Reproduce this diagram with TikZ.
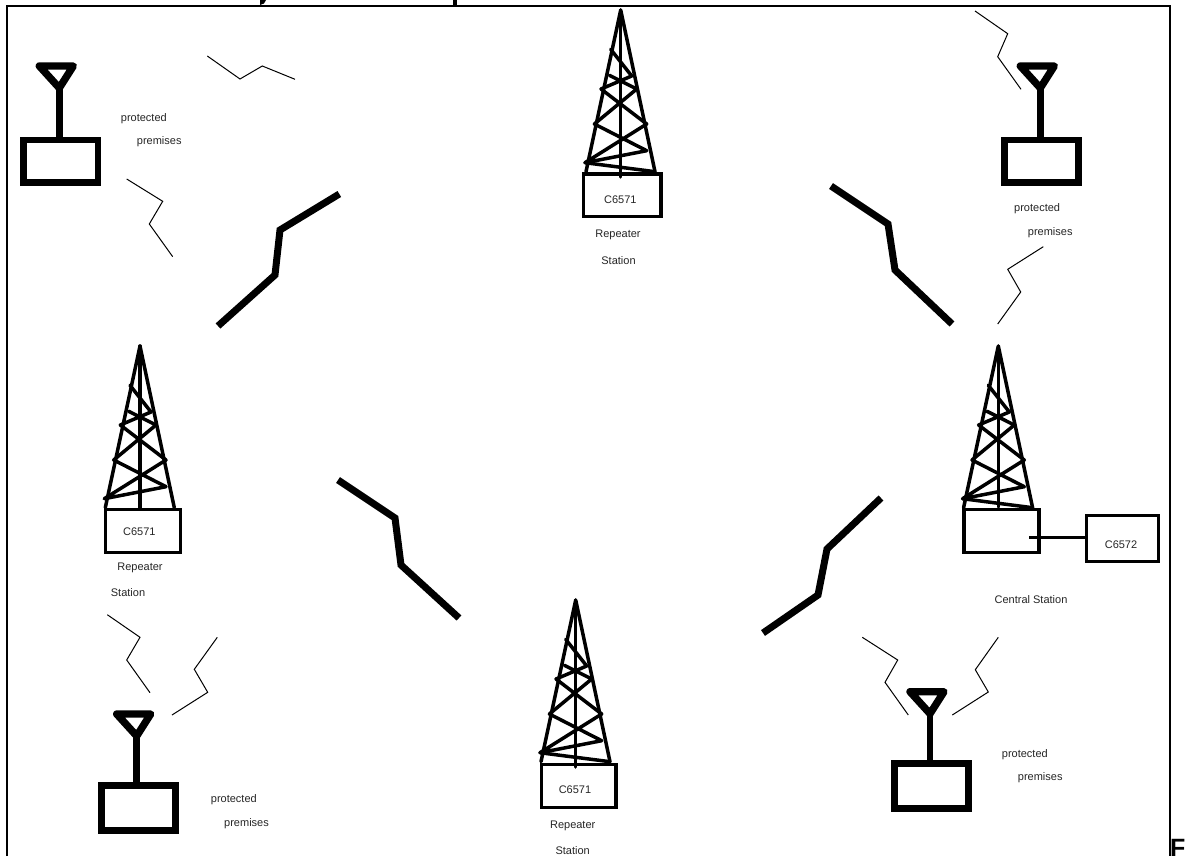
\documentclass[tikz,border=0pt]{standalone}
\usepackage{fontspec}
\setmainfont{Liberation Sans}
\newcommand{\towerbody}[5]{%
  % #1 name, #2 apex x, #3 apex y, #4 foot of the mast, #5 extra bar (1 = yes)
  \begin{scope}[shift={(#2,#3)}]
    \coordinate (#1apex) at (0,0);
    \coordinate (#1foot) at (0,#4);
    \draw[towerline] (-34.7,161.7) -- (#1apex) -- (34.3,161.7);
    \draw[towerline] (#1apex) -- (#1foot);
    \draw[towerline] (-10,39.3) -- (11,66) -- (-19.7,79) -- (26,114) -- (-35.7,152.7) -- (26,140.7) -- (-26.3,114) -- (16,79) -- (-11.3,65.3);
    \ifnum#5=1 \draw[towerline] (-35.7,152.7) -- (34.3,161.7);\fi
  \end{scope}}
\newcommand{\antennaunit}[7]{%
  % #1 name, #2 stem x, #3 tri top y, #4 box left, #5 box top, #6 box right, #7 box bottom
  \draw[antline] (#4,#5) rectangle (#6,#7);
  \coordinate (#1stemtop) at (#2,#3+22);
  \coordinate (#1stembot) at (#2,#5);
  \draw[antline] (#1stembot) -- (#1stemtop);
  \draw[triline] (#2-20,#3) -- (#2+14,#3) -- (#1stemtop) -- cycle;}
\tikzset{
  towerline/.style={line width=3.5pt,line join=round,line cap=round,black},
  stationbox/.style={draw=black,line width=3.2pt,fill=none,inner sep=0pt,anchor=north west},
  antline/.style={line width=6.6pt,black},
  triline/.style={line width=7.4pt,line join=round,line cap=round,black},
  thinbolt/.style={line width=1pt,black},
  thickbolt/.style={line width=7pt,black},
  lbl/.style={font=\fontsize{11}{13}\selectfont,text=black!85,inner sep=0pt},
  lblw/.style={lbl,anchor=west},
  framed/.style={line width=2.2pt,black},
}
\begin{document}
\begin{tikzpicture}[x=1pt,y=-1pt]
\useasboundingbox (0,0) rectangle (1185,856);
\fill[white] (0,0) rectangle (1185,856);
% clipped remains of the page text
\fill[black] (260,0) -- (266,0) -- (264,3.5) -- (260,5) -- cycle;
\fill[black] (453,0) rectangle (457,5);
\node[font=\bfseries\fontsize{25}{25}\selectfont,anchor=base west,inner sep=0pt] (fig) at (1170,856.5) {F};
% frame
\draw[framed] (7,856) -- (7,6) -- (1170,6) -- (1170,856);
% towers
\towerbody{t}{620.7}{10}{167}{1}
\towerbody{l}{140}{346}{162}{0}
\towerbody{r}{998.3}{346}{161}{1}
\towerbody{b}{575.7}{600}{167}{1}
% station boxes
\node[stationbox,minimum width=77.6pt,minimum height=42.7pt] (tbox) at (581.7,172.3) {};
\node[stationbox,minimum width=75pt,minimum height=42.7pt] (lbox) at (104,508) {};
\node[stationbox,minimum width=75pt,minimum height=43pt] (rbox) at (962.3,507.7) {};
\node[stationbox,minimum width=74.3pt,minimum height=43pt] (bbox) at (540,762.7) {};
\node[stationbox,minimum width=71.7pt,minimum height=46pt] (cbox) at (1085,514) {};
\coordinate (rtap) at (1029.3,537.7);
\draw[line width=3.2pt,black] (rtap) -- (rtap -| cbox.west);
% antennas
\antennaunit{a}{59.3}{66}{23.7}{140}{98}{182.7}
\antennaunit{c}{1040.3}{66}{1004.7}{140}{1078.7}{182.7}
\antennaunit{d}{136.7}{714}{101.3}{785.7}{175.3}{830.3}
\antennaunit{e}{930}{691.7}{894.7}{763.7}{968.7}{808.7}
% thick bolts
\draw[thickbolt] (339.3,194) -- (280,230) -- (275,275) -- (218,326);
\draw[thickbolt] (831,186) -- (888,224) -- (895,270) -- (952,324);
\draw[thickbolt] (338,480) -- (395,518) -- (401,565) -- (459,618);
\draw[thickbolt] (881,498) -- (827,549) -- (818,595) -- (763,633);
% thin bolts
\draw[thinbolt] (207.3,56) -- (240,79) -- (262.3,66) -- (295,79.3);
\draw[thinbolt] (126.7,179) -- (162.7,201.3) -- (149.3,224) -- (172.7,256.7);
\draw[thinbolt] (975,11) -- (1007.7,33.7) -- (997.7,56.7) -- (1021,89.3);
\draw[thinbolt] (1043.3,246.7) -- (1007.7,269.3) -- (1020.7,292) -- (997.7,324);
\draw[thinbolt] (107.3,614.7) -- (140,637.3) -- (126.7,660) -- (150,692.7);
\draw[thinbolt] (217.3,637.3) -- (194.3,669.3) -- (207.7,692.3) -- (172,715);
\draw[thinbolt] (862.3,637.3) -- (897.7,660) -- (885,682.3) -- (908.3,715);
\draw[thinbolt] (998.3,637.3) -- (975.3,669.7) -- (988.3,692) -- (952.3,715);
% labels
\node[lblw] (p1) at (120.7,118.5) {protected};
\node[lblw] (p2) at (136.7,142) {premises};
\node[lblw] (p3) at (1014,208.5) {protected};
\node[lblw] (p4) at (1027.7,232.5) {premises};
\node[lblw] (p5) at (210.7,799.5) {protected};
\node[lblw] (p6) at (224,823.5) {premises};
\node[lblw] (p7) at (1001.7,754.5) {protected};
\node[lblw] (p8) at (1017.7,777.5) {premises};
\node[lbl] (t1) at (620.3,199.3) {C6571};
\node[lbl] (t2) at (618,234.8) {Repeater};
\node[lbl] (t3) at (618.5,260.5) {Station};
\node[lbl] (l1) at (139.3,531.5) {C6571};
\node[lbl] (l2) at (140,567.5) {Repeater};
\node[lbl] (l3) at (128,592.5) {Station};
\node[lbl] (b1) at (575,789.5) {C6571};
\node[lbl] (b2) at (572.7,825.5) {Repeater};
\node[lbl] (b3) at (572.7,851) {Station};
\node[lbl] (r1) at (1031,599.5) {Central Station};
\node[lbl] (c1) at (1121,544.5) {C6572};
\end{tikzpicture}
\end{document}
